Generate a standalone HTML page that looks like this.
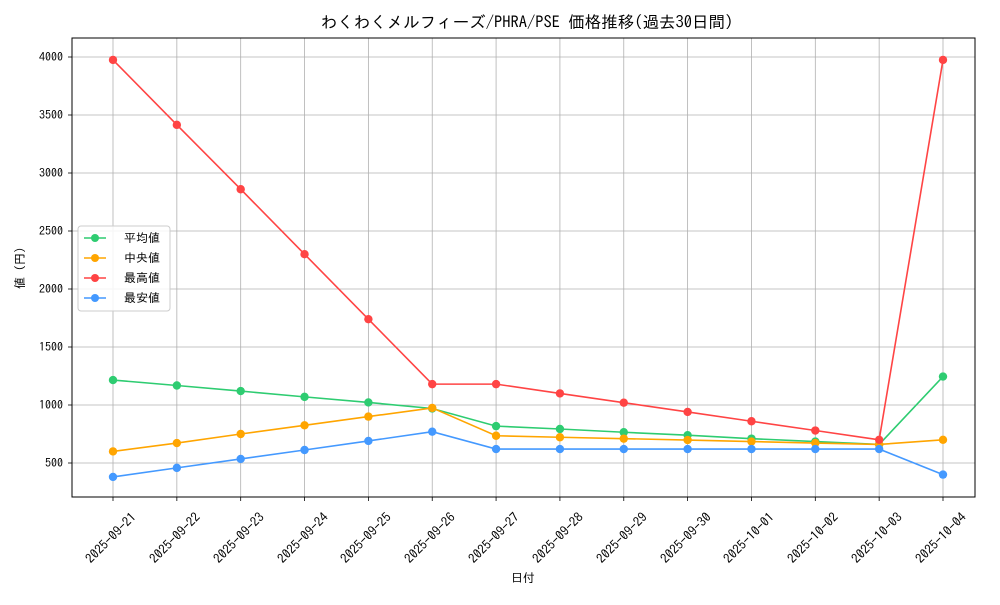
<!DOCTYPE html>
<html><head><meta charset="utf-8"><style>
body{margin:0;background:#fff}
svg{font-family:"IPAGothic","Noto Sans CJK JP",sans-serif;font-size:12px}
</style></head><body>
<svg id="s" width="1000" height="600" xmlns="http://www.w3.org/2000/svg">
<rect width="1000" height="600" fill="#fff"/>
<g id="grid" stroke="#b0b0b0" stroke-width="0.8"></g>
<rect x="72" y="38" width="903" height="459" fill="none" stroke="#000" stroke-width="1"/>
<g id="series"></g>
<text x="527" y="28" text-anchor="middle" font-size="16.5">わくわくメルフィーズ/PHRA/PSE 価格推移(過去30日間)</text>
<g text-anchor="end">
<text x="63" y="61">4000</text><text x="63" y="119">3500</text><text x="63" y="177">3000</text>
<text x="63" y="235">2500</text><text x="63" y="293">2000</text><text x="63" y="351">1500</text>
<text x="63" y="409">1000</text><text x="63" y="467">500</text>
</g>
<text transform="translate(24,268) rotate(-90)" text-anchor="middle">値 (円)</text>
<text x="523" y="582" text-anchor="middle">日付</text>
<g text-anchor="middle" font-size="13">
<text transform="translate(114,541) rotate(-45)">2025-09-21</text>
<text transform="translate(178,541) rotate(-45)">2025-09-22</text>
<text transform="translate(242,541) rotate(-45)">2025-09-23</text>
<text transform="translate(306,541) rotate(-45)">2025-09-24</text>
<text transform="translate(369,541) rotate(-45)">2025-09-25</text>
<text transform="translate(433,541) rotate(-45)">2025-09-26</text>
<text transform="translate(497,541) rotate(-45)">2025-09-27</text>
<text transform="translate(561,541) rotate(-45)">2025-09-28</text>
<text transform="translate(625,541) rotate(-45)">2025-09-29</text>
<text transform="translate(689,541) rotate(-45)">2025-09-30</text>
<text transform="translate(752,541) rotate(-45)">2025-10-01</text>
<text transform="translate(816,541) rotate(-45)">2025-10-02</text>
<text transform="translate(880,541) rotate(-45)">2025-10-03</text>
<text transform="translate(944,541) rotate(-45)">2025-10-04</text>
</g>
<rect x="78" y="226" width="92" height="85" fill="#fff" fill-opacity="0.85" stroke="#ccc" rx="3"/>
<g stroke-width="1.5">
<line x1="84" y1="238" x2="106" y2="238" stroke="#2ecc71"/><circle cx="95" cy="238" r="4" fill="#2ecc71"/>
<line x1="84" y1="258" x2="106" y2="258" stroke="#ffa500"/><circle cx="95" cy="258" r="4" fill="#ffa500"/>
<line x1="84" y1="278" x2="106" y2="278" stroke="#ff4444"/><circle cx="95" cy="278" r="4" fill="#ff4444"/>
<line x1="84" y1="298" x2="106" y2="298" stroke="#4499ff"/><circle cx="95" cy="298" r="4" fill="#4499ff"/>
</g>
<text x="124" y="242">平均値</text><text x="124" y="262">中央値</text>
<text x="124" y="282">最高値</text><text x="124" y="302">最安値</text>
</svg>
<script>
const NS="http://www.w3.org/2000/svg";
const X=i=>113+i*(830/13), Y=v=>463-(v-500)*0.116;
const g=document.getElementById('grid'), sr=document.getElementById('series');
function el(p,t,a){const e=document.createElementNS(NS,t);for(const k in a)e.setAttribute(k,a[k]);p.appendChild(e);return e;}
for(let i=0;i<14;i++){el(g,'line',{x1:X(i),x2:X(i),y1:38,y2:497});el(g,'line',{x1:X(i),x2:X(i),y1:497,y2:501,stroke:'#000'});}
for(let v=500;v<=4000;v+=500){el(g,'line',{x1:72,x2:975,y1:Y(v),y2:Y(v)});el(g,'line',{x1:68,x2:72,y1:Y(v),y2:Y(v),stroke:'#000'});}
const D=[
["#2ecc71",[1215,1168,1120,1070,1022,970,818,793,765,740,710,685,660,1245]],
["#ffa500",[600,672,750,825,900,975,735,722,710,698,685,672,660,700]],
["#ff4444",[3975,3415,2860,2300,1740,1180,1180,1100,1020,940,860,780,700,3975]],
["#4499ff",[380,458,535,612,690,770,620,620,620,620,620,620,620,400]]];
for(const [c,d] of D){
 el(sr,'polyline',{points:d.map((v,i)=>X(i)+','+Y(v)).join(' '),fill:'none',stroke:c,'stroke-width':1.6});
 d.forEach((v,i)=>el(sr,'circle',{cx:X(i),cy:Y(v),r:4.2,fill:c}));
}
</script>
</body></html>
